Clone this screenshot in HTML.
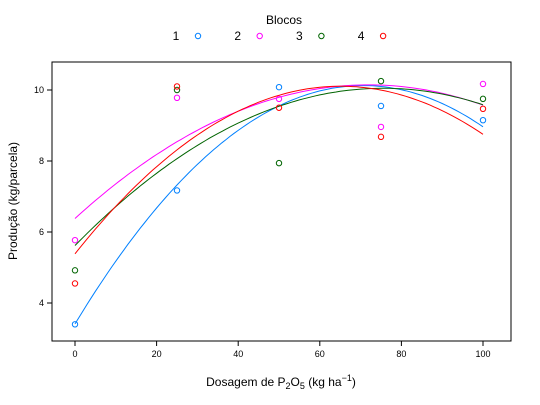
<!DOCTYPE html>
<html><head><meta charset="utf-8"><style>
body{margin:0;background:#fff;}
svg{font-family:"Liberation Sans",sans-serif;}
</style></head><body>
<svg id="c" width="540" height="400" xmlns="http://www.w3.org/2000/svg"></svg>
<script>
const doses=[0,25,50,75,100];
const blocks=["1","2","3","4"];
const colors=["#0080ff","#ff00ff","#006400","#ff0000"];
const b1=[3.4,7.17,10.08,9.55,9.15];
const b2=[5.77,9.78,9.75,8.96,10.17];
const b3=[4.92,10.0,7.94,10.25,9.75];
const b4=[4.55,10.1,9.5,8.68,9.47];
const series=[b1,b2,b3,b4];
const xTicks=[0,20,40,60,80,100];
const yTicks=[4,6,8,10];
const svg=document.getElementById('c');
const NS="http://www.w3.org/2000/svg";
const L=52,R=511,T=62,B=341;
const X=v=>75+v*4.08;
const Y=v=>303-(v-4)*35.5;
function mk(t,a,p){const e=document.createElementNS(NS,t);for(const k in a)e.setAttribute(k,a[k]);(p||svg).appendChild(e);return e;}
const frame=mk('rect',{x:L,y:T,width:R-L,height:B-T,fill:'none',stroke:'#000','stroke-width':1});

xTicks.forEach(v=>{const g=mk('g',{});
mk('line',{x1:X(v),x2:X(v),y1:B,y2:B+5,stroke:'#000'},g);
const t=mk('text',{x:X(v),y:B+16,'font-size':9,'text-anchor':'middle'},g);t.textContent=v;});
yTicks.forEach(v=>{const g=mk('g',{});
mk('line',{x1:L-5,x2:L,y1:Y(v),y2:Y(v),stroke:'#000'},g);
const t=mk('text',{x:L-8,y:Y(v)+3,'font-size':9,'text-anchor':'end'},g);t.textContent=v;});
const xt=mk('text',{x:281,y:386,'font-size':12,'text-anchor':'middle'});

xt.innerHTML='Dosagem de P<tspan font-size="9" dy="3">2</tspan><tspan dy="-3">O</tspan><tspan font-size="9" dy="3">5</tspan><tspan dy="-3"> (kg ha</tspan><tspan font-size="9" dy="-5">−1</tspan><tspan dy="5">)</tspan>';
const yt=mk('text',{x:0,y:0,'font-size':12,'text-anchor':'middle',transform:'translate(17,201) rotate(-90)'});
yt.textContent='Produção (kg/parcela)';
const lt=mk('text',{x:284,y:24,'font-size':12,'text-anchor':'middle'});
lt.textContent='Blocos';
function fit(ys){let n=doses.length,S=[0,0,0,0,0],Sy=[0,0,0];
doses.forEach((x,i)=>{for(let k=0;k<5;k++)S[k]+=x**k;for(let k=0;k<3;k++)Sy[k]+=ys[i]*x**k;});
const A=[[S[0],S[1],S[2],Sy[0]],[S[1],S[2],S[3],Sy[1]],[S[2],S[3],S[4],Sy[2]]];
for(let i=0;i<3;i++){for(let j=i+1;j<3;j++){const f=A[j][i]/A[i][i];for(let k=i;k<4;k++)A[j][k]-=f*A[i][k];}}
const c=[0,0,0];for(let i=2;i>=0;i--){let s=A[i][3];for(let k=i+1;k<3;k++)s-=A[i][k]*c[k];c[i]=s/A[i][i];}return c;}
series.forEach((ys,si)=>{const g=mk('g',{});
const c=fit(ys);let d='';for(let x=0;x<=100;x+=1){const y=c[0]+c[1]*x+c[2]*x*x;d+=(x?'L':'M')+X(x).toFixed(1)+','+Y(y).toFixed(1);}
const p=mk('path',{d:d,fill:'none',stroke:colors[si],'stroke-width':1},g);

ys.forEach((v,i)=>{const pt=mk('circle',{cx:X(doses[i]),cy:Y(v),r:2.7,fill:'none',stroke:colors[si],'stroke-width':1},g);
});
const lg=mk('g',{});
const lx=176+si*61.7;const tt=mk('text',{x:lx,y:40,'font-size':12,'text-anchor':'middle'},lg);tt.textContent=blocks[si];
mk('circle',{cx:lx+22,cy:36,r:2.7,fill:'none',stroke:colors[si]},lg);});
</script>
</body></html>
